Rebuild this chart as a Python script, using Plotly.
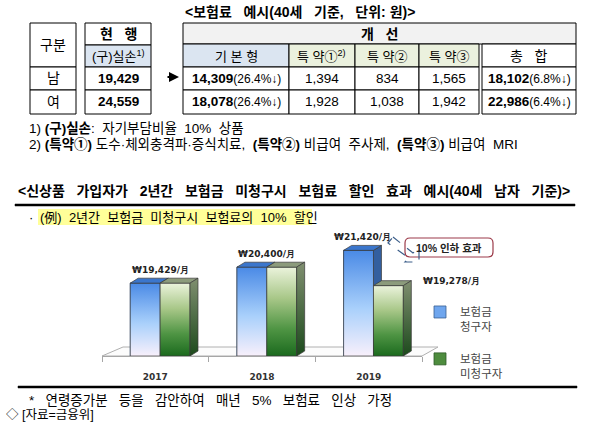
import plotly.graph_objects as go

W, H = 590, 431
FONT = "Liberation Sans, Noto Sans CJK KR"
KFONT = "Noto Sans CJK KR"

# top table: premium example (age 40, won)
genders = ["남", "여"]
current = [19429, 24559]
basic = [14309, 18078]
basic_cut = [26.4, 26.4]
rider1 = [1394, 1928]
rider2 = [834, 1038]
rider3 = [1565, 1942]
total = [18102, 22986]
total_cut = [6.8, 6.4]

# chart: premium by year, claimers vs non-claimers
years = ["2017", "2018", "2019"]
claimed = [19429, 20400, 21420]
unclaimed = [19429, 20400, 19278]
series_names = ["보험금<br>청구자", "보험금<br>미청구자"]

AXIS_MIN = 15000
AXIS_MAX = 22900


def px(x):
    return x / W


def py(y):
    return 1 - y / H


shapes = []
annotations = []


def rect(x0, y0, x1, y1, fill="white", color="black", width=1, layer="below"):
    shapes.append(dict(type="rect", xref="paper", yref="paper",
                       x0=px(x0), x1=px(x1), y0=py(y1), y1=py(y0),
                       line=dict(color=color, width=width),
                       fillcolor=fill, layer=layer))


def text(x, y, s, size=13, anchor="center", color="black", family=FONT):
    annotations.append(dict(xref="paper", yref="paper", x=px(x), y=py(y),
                            text=s, showarrow=False, xanchor=anchor,
                            yanchor="middle",
                            font=dict(size=size, color=color, family=family)))


def path(points, close=True):
    s = "M " + " L ".join(f"{px(a)},{py(b)}" for a, b in points)
    return s + (" Z" if close else "")


def rule(x0, x1, y):
    # solid strip, about 2px high, on top of everything
    rect(x0, y - 1, x1, y + 1, fill="black", color="black", width=0.5, layer="above")


# ---- top table ----
text(300, 12, "<b>&lt;보험료   예시(40세   기준,   단위: 원)&gt;</b>", size=14)

rows = [(67, 90), (90, 114)]

# 구분 column
rect(30, 23, 76, 67)
text(53, 45, "구분", size=14)
for (y0, y1), g in zip(rows, genders):
    rect(30, y0, 76, y1)
    text(53, (y0 + y1) / 2, g, size=14)

# 현행 column
rect(85, 23, 151, 45)
text(118, 34, "<b>현   행</b>", size=14)
rect(85, 45, 151, 67, fill="#dbe5f1")
text(118, 56, "(구)실손<sup>1)</sup>", size=13)
for (y0, y1), v in zip(rows, current):
    rect(85, y0, 151, y1)
    text(118, (y0 + y1) / 2, f"<b>{v:,}</b>", size=13.5)

# arrow
annotations.append(dict(xref="paper", yref="paper",
                        x=px(179), y=py(77), ax=-13, ay=0, text="",
                        showarrow=True, arrowhead=2, arrowsize=1, arrowwidth=2,
                        arrowcolor="black"))

# 개선 block
rect(183, 23, 576, 44, fill="#f2f2f2")
text(380, 34, "<b>개   선</b>", size=14)
cols = [(183, 289), (289, 355), (355, 419), (419, 479)]
heads = ["기 본 형", "특 약①<sup>2)</sup>", "특 약②", "특 약③"]
fills = ["#dbe5f1", "#ebf1de", "#ebf1de", "#ebf1de"]
for (x0, x1), h, f in zip(cols, heads, fills):
    rect(x0, 44, x1, 67, fill=f)
    text((x0 + x1) / 2, 56, h, size=13)
rect(482, 44, 576, 67)
text(529, 56, "총   합", size=14)

for i, (y0, y1) in enumerate(rows):
    yc = (y0 + y1) / 2
    cells = [
        f"<b>{basic[i]:,}</b><span style='font-size:12px'>({basic_cut[i]}%↓)</span>",
        f"{rider1[i]:,}",
        f"{rider2[i]:,}",
        f"{rider3[i]:,}",
    ]
    for (x0, x1), s in zip(cols, cells):
        rect(x0, y0, x1, y1)
        text((x0 + x1) / 2, yc, s, size=13.5)
    rect(482, y0, 576, y1)
    text(529, yc, f"<b>{total[i]:,}</b><span style='font-size:12px'>({total_cut[i]}%↓)</span>",
         size=13.5)

# footnotes
text(27, 128, "1) <b>(구)실손</b>:  자기부담비율  10%  상품", size=13.5, anchor="left")
text(27, 144, "2) <b>(특약①)</b> 도수·체외충격파·증식치료,  <b>(특약②)</b> 비급여  주사제,  "
     "<b>(특약③)</b> 비급여  MRI", size=13.5, anchor="left")

# ---- second section ----
text(294, 191, "<b>&lt;신상품   가입자가   2년간   보험금   미청구시   보험료   할인   효과   "
     "예시(40세   남자   기준)&gt;</b>", size=14)
rule(15, 575, 205)
rect(38, 209, 312, 225, fill="#ffff99", color="rgba(0,0,0,0)", width=0)
text(27, 217, "·", size=13, anchor="left")
text(38, 217, "(例)  2년간  보험금  미청구시  보험료의  10%  할인", size=13, anchor="left")

# floor of the 3d chart
shapes.append(dict(type="path", xref="paper", yref="paper",
                   path=path([(102, 356), (123, 347), (438, 347), (422, 356)]),
                   line=dict(color="#b0b0b0", width=1), fillcolor="#fcfcfc", layer="below"))

# callout box and dashed arrow
bx0, bx1, by0, by1, r = 405, 493, 238, 257, 5
rr = (f"M {px(bx0 + r)},{py(by0)} L {px(bx1 - r)},{py(by0)} "
      f"Q {px(bx1)},{py(by0)} {px(bx1)},{py(by0 + r)} L {px(bx1)},{py(by1 - r)} "
      f"Q {px(bx1)},{py(by1)} {px(bx1 - r)},{py(by1)} L {px(bx0 + r)},{py(by1)} "
      f"Q {px(bx0)},{py(by1)} {px(bx0)},{py(by1 - r)} L {px(bx0)},{py(by0 + r)} "
      f"Q {px(bx0)},{py(by0)} {px(bx0 + r)},{py(by0)} Z")
shapes.append(dict(type="path", xref="paper", yref="paper", path=rr,
                   line=dict(color="#9c3b4a", width=1.2), fillcolor="white"))
text(449, 247.5, "<b>10% 인하 효과</b>", size=10.5, color="#222")
shapes.append(dict(type="path", xref="paper", yref="paper",
                   path=path([(393, 237), (413, 253), (419, 248), (419, 262),
                              (405, 262), (409, 258), (388, 243)]),
                   line=dict(color="#3d5f8a", width=1.2, dash="dash")))

# bottom rule and notes
rule(18, 577, 387)
text(27, 400, "*   연령증가분   등을   감안하여   매년   5%   보험료   인상   가정", size=13.5,
     anchor="left")
text(4, 414, "◇ [자료=금융위]", size=12.5, anchor="left")

# ---- bars ----
xs = list(range(len(years)))
BW = 0.28
OFF_A, OFF_B = -0.235, 0.045
DX = 0.075   # depth along x (category units)
DY = 300     # depth along y (won)

fig = go.Figure()
fig.add_trace(go.Bar(x=xs, y=claimed, offset=OFF_A, width=BW, name=series_names[0],
                     marker=dict(color="#6fa6ee", line=dict(color="#3a5f90", width=0.8)),
                     legendgroup="a", hoverinfo="skip"))
fig.add_trace(go.Bar(x=xs, y=unclaimed, offset=OFF_B, width=BW, name=series_names[1],
                     marker=dict(color="#4e8c3e", line=dict(color="#2f5a2a", width=0.8)),
                     legendgroup="b", hoverinfo="skip"))

BLUE_FRONT = [[0, "#f8f0fb"], [0.45, "#a9d0fb"], [1, "#4a8ae6"]]
GREEN_FRONT = [[0, "#1b6a1e"], [0.3, "#4e9443"], [0.65, "#a8c788"], [1, "#ebf3dc"]]
GREEN_SIDE = [[0, "#1c4a1c"], [1, "#808f70"]]
EDGE = dict(color="#3a3a3a", width=0.7)


def poly(xv, yv, fill=None, grad=None):
    kw = dict(x=xv + [xv[0]], y=yv + [yv[0]], mode="lines", fill="toself",
              line=EDGE, showlegend=False, hoverinfo="skip")
    if grad:
        kw["fillgradient"] = dict(type="vertical", colorscale=grad)
    else:
        kw["fillcolor"] = fill
    fig.add_trace(go.Scatter(**kw))


for i in xs:
    a0, a1 = i + OFF_A, i + OFF_A + BW
    b0, b1 = i + OFF_B, i + OFF_B + BW
    va, vb = claimed[i], unclaimed[i]
    poly([a1, a1 + DX, a1 + DX, a1], [va, va + DY, AXIS_MIN + DY, AXIS_MIN], fill="#335f9f")
    poly([a0, a0, a1, a1], [AXIS_MIN, va, va, AXIS_MIN], grad=BLUE_FRONT)
    poly([a0, a0 + DX, a1 + DX, a1], [va, va + DY, va + DY, va], fill="#3b76cc")
    poly([b0, b0, b1, b1], [AXIS_MIN, vb, vb, AXIS_MIN], grad=GREEN_FRONT)
    poly([b0, b0 + DX, b1 + DX, b1], [vb, vb + DY, vb + DY, vb], fill="#8c9b7c")
    poly([b1, b1 + DX, b1 + DX, b1], [vb, vb + DY, AXIS_MIN + DY, AXIS_MIN], grad=GREEN_SIDE)

    lab = dict(font=dict(size=9, color="#222", family="DejaVu Sans"), showarrow=False)
    if va == vb:
        annotations.append(dict(x=i + (OFF_A + OFF_B + BW) / 2, y=va + DY, yanchor="bottom",
                                yshift=1, text=f"<b>₩{va:,}/月</b>", **lab))
    else:
        annotations.append(dict(x=a0 + BW / 2 + DX / 2, y=va + DY, yanchor="bottom",
                                yshift=1, text=f"<b>₩{va:,}/月</b>", **lab))
        annotations.append(dict(x=b1 + DX, y=vb + DY, xanchor="left", yanchor="middle",
                                xshift=10, text=f"<b>₩{vb:,}/月</b>", **lab))

fig.update_layout(
    width=W, height=H,
    margin=dict(l=0, r=0, t=0, b=0),
    paper_bgcolor="white",
    plot_bgcolor="rgba(0,0,0,0)",
    barmode="overlay",
    shapes=shapes,
    annotations=annotations,
    font=dict(family=FONT, color="black"),
    legend=dict(x=px(420), y=py(298), xanchor="left", yanchor="top",
                bgcolor="rgba(0,0,0,0)", valign="top", tracegroupgap=14,
                itemwidth=30,
                font=dict(size=11.5, color="#444", family=KFONT)),
    xaxis=dict(domain=[px(102), px(422)], range=[-0.5, 2.5], showgrid=False,
               zeroline=False, showline=True, linecolor="#a6a6a6", linewidth=1,
               tickvals=xs, ticktext=[f"<b>{y}</b>" for y in years], ticks="",
               ticklabelstandoff=12,
               tickfont=dict(size=9, color="#333", family="DejaVu Sans"),
               minor=dict(tickmode="array", tickvals=[-0.5, 0.5, 1.5, 2.5],
                          ticks="outside", ticklen=5, tickcolor="#a6a6a6")),
    yaxis=dict(domain=[py(356), py(226)], range=[AXIS_MIN, AXIS_MAX], visible=False,
               showgrid=False, zeroline=False),
)

fig.write_html("out.html", config={"displayModeBar": False},
               post_script="document.body.style.margin='0px';")
